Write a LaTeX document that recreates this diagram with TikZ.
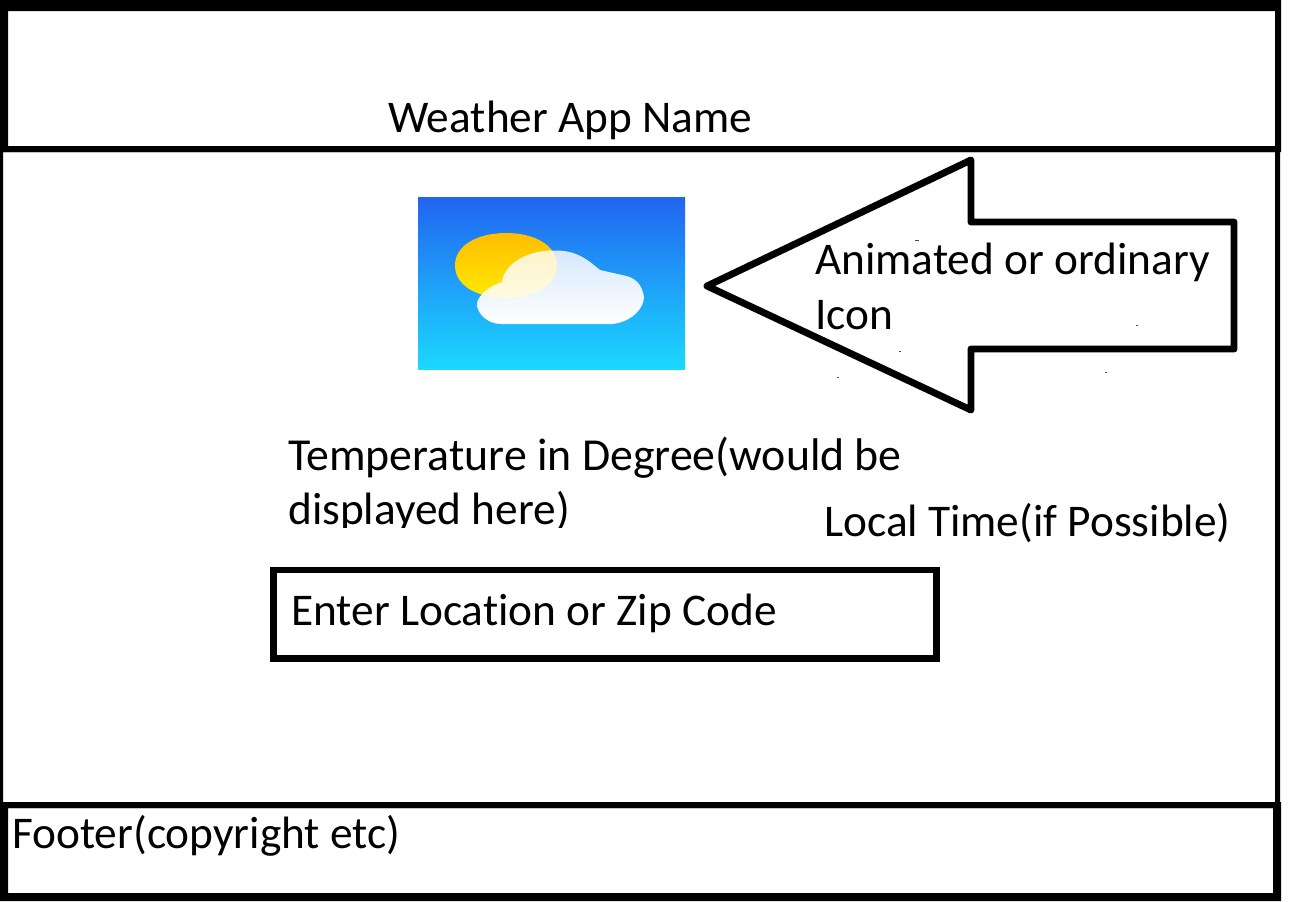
\documentclass[tikz,border=0pt]{standalone}
\usepackage{fontspec}
\setmainfont{Carlito}[Ligatures=NoCommon]
\definecolor{skytop}{HTML}{2165F0}
\definecolor{skybot}{HTML}{1CD8FF}
\definecolor{suntop}{HTML}{FFBD00}
\definecolor{sunbot}{HTML}{FFEA00}
\definecolor{cloudtop}{HTML}{D6E8FC}
\definecolor{mixtop}{HTML}{FDF0C4}
\definecolor{mixbot}{HTML}{FFFBE0}
\tikzset{
  px/.style={x=0.75pt,y=-0.75pt},
  label/.style={anchor=base west,inner sep=0pt,font=\fontsize{34}{40}\selectfont,text=black},
  widelabel/.style={label,font=\fontsize{34.35}{40}\selectfont},
  outline/.style={draw=black,line width=5.2pt,line join=round,fill=white},
  speck/.style={fill=black!70},
}
\newcommand{\cloudpath}{(501,324) -- (612,324) .. controls (632,322) and (644,308) .. (644,297) .. controls (642,284) and (635,277) .. (622,275) -- (600,270) .. controls (590,262) and (578,250) .. (555,250.5) .. controls (530,250) and (505,262) .. (502,282) .. controls (490,286) and (477,296) .. (477,304) .. controls (477,314) and (488,324) .. (501,324) -- cycle}
\newcommand{\sunpath}{(455,265.5) .. controls (455,245) and (478,233) .. (506,233) .. controls (534,233) and (557,245) .. (557,265.5) .. controls (557,286) and (534,298) .. (506,298) .. controls (478,298) and (455,286) .. (455,265.5) -- cycle}
\begin{document}
\begin{tikzpicture}[px]
\useasboundingbox (0,0) rectangle (1290,901);
% page frame
\fill[black,even odd rule] (0,0) rectangle (1281,152) (8,11) rectangle (1275,146);
\fill[black,even odd rule] (0,146) rectangle (1280,808) (3,152) rectangle (1275,802);
\fill[black,even odd rule] (0,802) rectangle (1281,901) (8,808) rectangle (1273,893);
% input box
\draw[black,line width=4.8pt] (273.5,570) rectangle (936.5,658.5);
% icon
\shade[top color=skytop,bottom color=skybot] (418,197) rectangle (685,369);
\shade[top color=suntop,bottom color=sunbot] \sunpath;
\shade[top color=cloudtop,bottom color=white] \cloudpath;
\begin{scope}
  \clip \cloudpath;
  \shade[top color=mixtop,bottom color=mixbot] \sunpath;
\end{scope}
% arrow
\draw[outline,miter limit=10] (707,286) -- (971,160) -- (971,222) -- (1234,222) -- (1234,349) -- (971,349) -- (971,410) -- cycle;
% specks
\fill[speck] (915,240) rectangle (919,241);
\fill[speck] (1136,325) rectangle (1138,326);
\fill[speck] (1105,372) rectangle (1107,373);
\fill[speck] (899,351) rectangle (901,352);
\fill[speck] (837,377) rectangle (839,378);
% texts
\node[label] (title) at (388,132) {Weather App Name};
\node[label] (anim) at (815,274) {Animated or ordinary};
\node[label] (icon) at (815,329) {Icon};
\node[widelabel] (temp) at (288,470) {Temperature in Degree(would be};
\node[label] (disp) at (288,524) {displayed here)};
\fill[white] (286,527.5) rectangle (575,540);
\node[label] (time) at (824,536) {Local Time(if Possible)};
\node[label] (enter) at (291,625) {Enter Location or Zip Code};
\node[label] (foot) at (12,848) {Footer(copyright etc)};
\end{tikzpicture}
\end{document}
